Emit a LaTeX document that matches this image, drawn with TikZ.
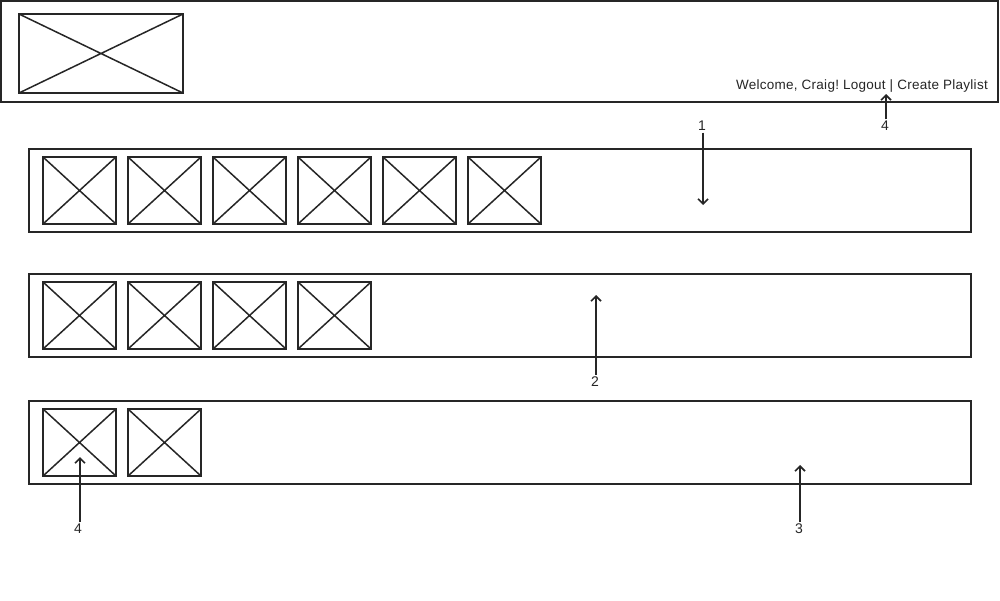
\documentclass[tikz,border=0pt]{standalone}
\usepackage{fontspec}
\setmainfont{Liberation Sans}
\usetikzlibrary{arrows.meta}
\definecolor{ink}{HTML}{262626}
\tikzset{
  panel/.style={draw=ink, line width=1.9pt, minimum width=942pt, minimum height=83pt, inner sep=0pt, outer sep=0pt},
  headerbox/.style={draw=ink, line width=1.9pt, minimum width=997pt, minimum height=101pt, inner sep=0pt, outer sep=0pt},
  imgph/.style={draw=ink, line width=1.9pt, inner sep=0pt, outer sep=0pt,
    path picture={\draw[ink, line width=1.5pt] (path picture bounding box.north west) -- (path picture bounding box.south east)
      (path picture bounding box.south west) -- (path picture bounding box.north east);}},
  thumb/.style={imgph, minimum width=73pt, minimum height=67pt},
  lbl/.style={font=\fontsize{14pt}{16pt}\selectfont, text=ink, inner sep=1.5pt},
  callout/.style={draw=ink, line width=1.9pt, -{Straight Barb[length=5pt,width=10pt,line width=1.6pt]}}
}
\begin{document}
\frenchspacing
\begin{tikzpicture}[x=1pt,y=-1pt]
\useasboundingbox (0,0) rectangle (1000,600);
\fill[white] (0,0) rectangle (1000,600);
% header
\node[headerbox] (header) at (499.5,51.5) {};
\node[imgph, minimum width=164pt, minimum height=79pt] (logo) at (101,53.5) {};
\node[anchor=base east, font=\fontsize{13.5pt}{16pt}\selectfont\addfontfeature{LetterSpace=2}, text=ink, inner sep=0pt] (welcome) at (988,89.5) {Welcome, Craig! Logout | Create Playlist};
% rows
\node[panel] (row1) at (500,190.5) {};
\node[panel] (row2) at (500,315.5) {};
\node[panel] (row3) at (500,442.5) {};
\foreach \i in {0,...,5} { \node[thumb] (ta\i) at (79.5+85*\i,190.5) {}; }
\foreach \i in {0,...,3} { \node[thumb] (tb\i) at (79.5+85*\i,315.5) {}; }
\foreach \i in {0,...,1} { \node[thumb] (tc\i) at (79.5+85*\i,442.5) {}; }
% callouts
\node[lbl] (n1) at (702,126) {1};
\coordinate (e1) at (703,205);
\draw[callout] (n1.south -| e1) -- (e1);
\node[lbl] (n2) at (595,381.5) {2};
\coordinate (e2) at (596,295);
\draw[callout] (n2.north -| e2) -- (e2);
\node[lbl] (n3) at (799,529) {3};
\coordinate (e3) at (800,465);
\draw[callout] (n3.north -| e3) -- (e3);
\node[lbl] (n4) at (78,529) {4};
\coordinate (e4) at (80,457);
\draw[callout] (n4.north -| e4) -- (e4);
\node[lbl] (n5) at (885,126) {4};
\coordinate (e5) at (886,94);
\draw[callout] (n5.north -| e5) -- (e5);
\end{tikzpicture}
\end{document}
